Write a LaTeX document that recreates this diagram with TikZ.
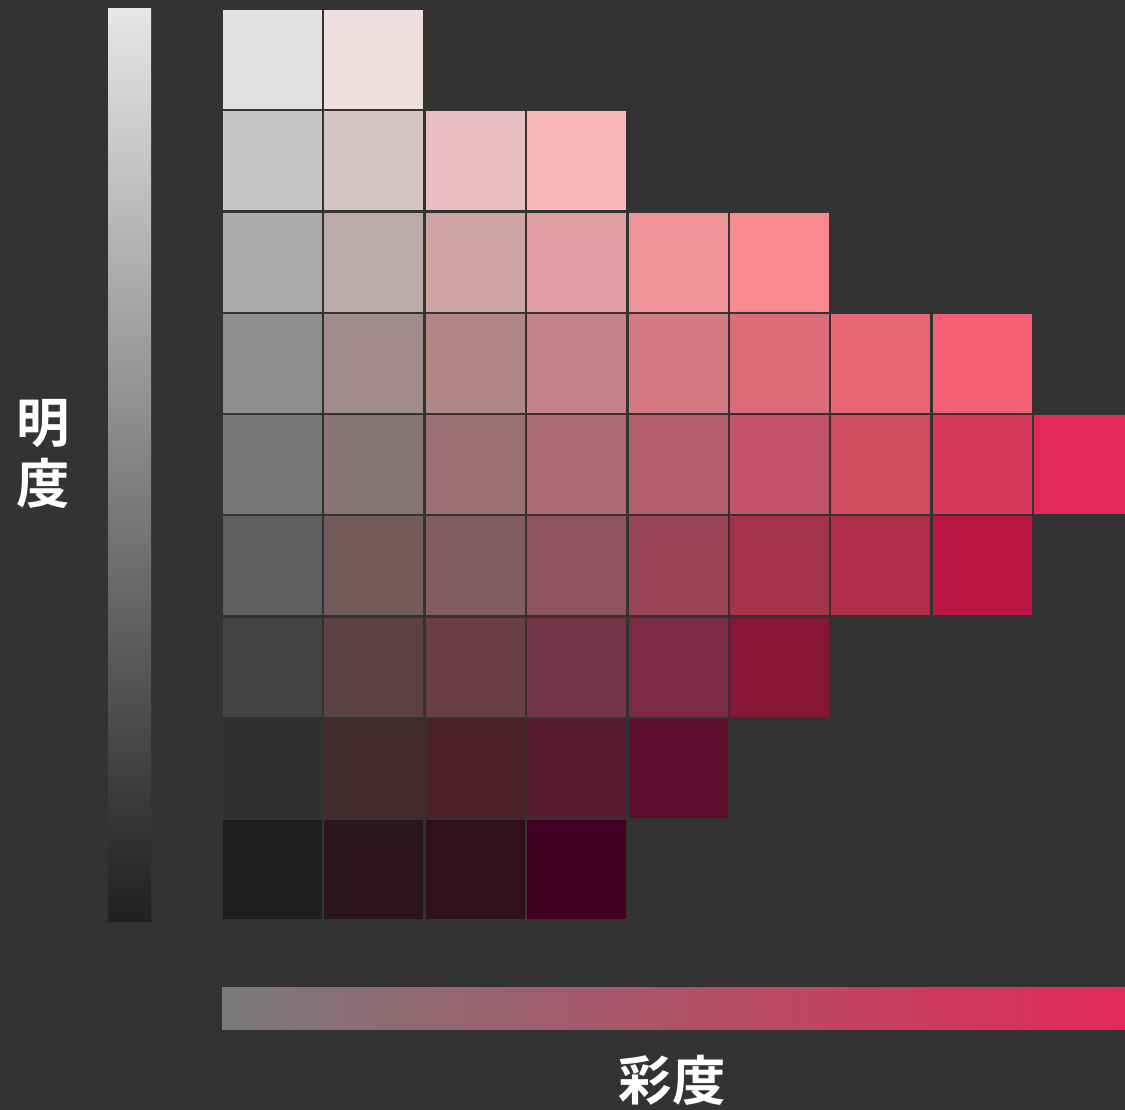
\documentclass[tikz,border=0pt]{standalone}
\usepackage{fontspec}
\newfontfamily\jpfont{Noto Sans CJK JP}[BoldFont={Noto Sans CJK JP Bold}]
\definecolor{bgcol}{HTML}{333333}
\definecolor{barlight}{HTML}{E6E6E6}
\definecolor{bardark}{HTML}{202020}
\definecolor{bargray}{HTML}{7A7A7A}
\definecolor{barred}{HTML}{E22A57}
\tikzset{
  axislabel/.style={text=white,font=\jpfont\bfseries\fontsize{40}{44}\selectfont,inner sep=0pt},
}
\begin{document}
\begin{tikzpicture}[x=0.75pt,y=-0.75pt]
\fill[bgcol] (0,0) rectangle (1125,1110);
\useasboundingbox (0,0) rectangle (1125,1110);
\clip (0,0) rectangle (1125,1110);
% swatches, one row per lightness step
\foreach \r/\row in {
    0/{E2E2E2,EFDFDF},
    1/{C6C6C6,D4C4C4,E9BDBF,F9B8BA},
    2/{ABABAB,BBAAAA,CDA3A4,E09EA2,EE9398,FA8A90},
    3/{8F8F8F,A08C8C,B18586,C38289,D27982,DC6A78,E66875,F45F73},
    4/{767676,877575,9A7074,AA6A76,B55E6E,C3536A,CC4C60,D83A5A,E22A57},
    5/{5F5F5F,735C5A,835B63,8F5262,994458,A3344C,B12C46,BA1646},
    6/{444444,5C4244,6A3E47,753549,7C2A45,881636},
    7/{303030,422B2D,4F212C,581C32,5E0E2C},
    8/{1F1F1F,2C161D,30101A,3F0021}} {
  \foreach \c [count=\k from 0] in \row {
    \definecolor{cellcol}{HTML}{\c}
    \fill[cellcol] (223+101.4*\k,10+101.25*\r) rectangle ++(99,99);
  }
}
% lightness bar
\shade[top color=barlight,bottom color=bardark] (108,8) rectangle (151,921);
% saturation bar
\shade[left color=bargray,right color=barred] (222,987) rectangle (1125,1029);
\node[axislabel,align=center] (lightness) at (43,454) {明\\[2pt]度};
\node[axislabel] (chroma) at (672,1080) {彩度};
\end{tikzpicture}
\end{document}
